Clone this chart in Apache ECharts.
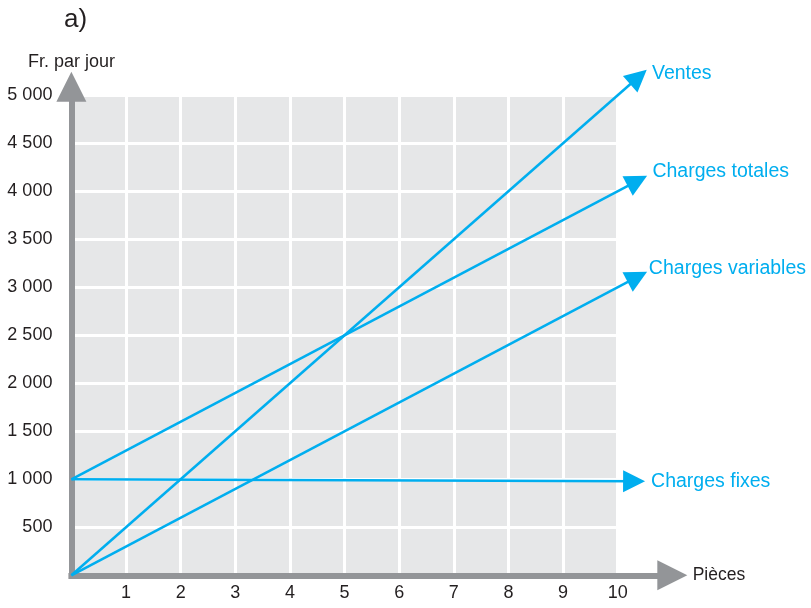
<!DOCTYPE html>
<html><head><meta charset="utf-8">
<script src="https://cdn.jsdelivr.net/npm/echarts@6/dist/echarts.min.js"></script>
<style>html,body{margin:0;padding:0;background:#fff}#c{width:811px;height:608px}</style>
</head><body><div id="c"></div>
<script>
// ---- data ----
const xTickLabels = ['', '1', '2', '3', '4', '5', '6', '7', '8', '9', '10'];
const yTickLabels = ['', '500', '1 000', '1 500', '2 000', '2 500', '3 000', '3 500', '4 000', '4 500', '5 000'];
const lineNames = ['Ventes', 'Charges totales', 'Charges variables', 'Charges fixes'];
const lineStart = [[0, 0], [0, 1000], [0, 0], [0, 1000]];
const lineEnd = [[10.38, 5190], [10.36, 4108], [10.36, 3108], [10.3, 980]];
const xAxisArrowEnd = [11, 0];
const yAxisArrowEnd = [0, 5090];

// ---- styles ----
const blue = '#00aeef';
const gray = '#939598';
const txt = '#231f20';
const font = 'Liberation Sans, Arial, sans-serif';
const labelDistances = [[18, 5], [17, 20], [13, 18], [17, 0]];

const chart = echarts.init(document.getElementById('c'), null, {renderer: 'canvas'});
chart.setOption({
  animation: false,
  backgroundColor: '#ffffff',
  title: {text: 'a)', left: 59, top: 2, textStyle: {fontSize: 26, fontWeight: 'normal', color: txt, fontFamily: font}},
  grid: {left: 71.4, right: 193.3, top: 95.3, bottom: 32.7, show: true, backgroundColor: '#e6e7e8', borderWidth: 0},
  xAxis: {
    type: 'value', min: 0, max: 10, interval: 1,
    name: 'Pièces', nameLocation: 'end', nameGap: 75,
    nameTextStyle: {fontSize: 17.5, color: txt, fontFamily: font, align: 'left', verticalAlign: 'middle'},
    axisLine: {show: false}, axisTick: {show: false},
    axisLabel: {margin: 9, fontSize: 18, color: txt, fontFamily: font, formatter: (v) => xTickLabels[Math.round(v)]},
    splitLine: {show: true, lineStyle: {color: '#ffffff', width: 3}}
  },
  yAxis: {
    type: 'value', min: 0, max: 5000, interval: 500,
    name: 'Fr. par jour', nameLocation: 'end', nameGap: 24,
    nameTextStyle: {fontSize: 18, color: txt, fontFamily: font, align: 'center'},
    axisLine: {show: false}, axisTick: {show: false},
    axisLabel: {margin: 19, fontSize: 18, color: txt, fontFamily: font, formatter: (v) => yTickLabels[Math.round(v / 500)]},
    splitLine: {show: true, lineStyle: {color: '#ffffff', width: 3}}
  },
  series: [
    {
      type: 'lines', coordinateSystem: 'cartesian2d', clip: false, z: 2,
      symbol: ['none', 'triangle'], symbolSize: 30,
      lineStyle: {color: gray, width: 6, opacity: 1, cap: 'square'},
      itemStyle: {color: gray},
      data: [
        {coords: [[0, 0], xAxisArrowEnd]},
        {coords: [[0, 0], yAxisArrowEnd]}
      ]
    },
    {
      type: 'lines', coordinateSystem: 'cartesian2d', clip: false, z: 3,
      symbol: ['none', 'triangle'], symbolSize: 22,
      lineStyle: {color: blue, width: 2.5, opacity: 1},
      itemStyle: {color: blue},
      data: lineNames.map((n, i) => ({
        name: n,
        coords: [lineStart[i], lineEnd[i]],
        label: {
          show: true, position: 'end', formatter: n, color: blue, fontSize: 19.5, fontFamily: font,
          align: 'left', verticalAlign: 'middle', distance: labelDistances[i]
        }
      }))
    }
  ]
});
</script>
</body></html>
